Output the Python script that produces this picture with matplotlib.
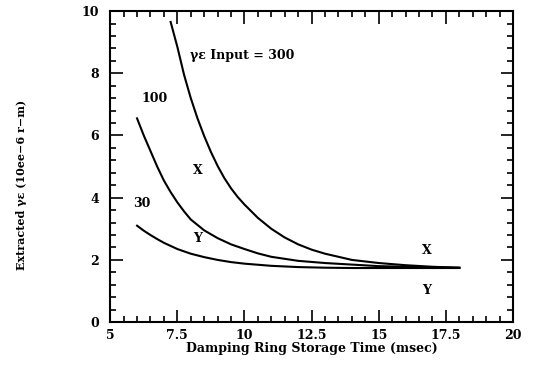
import matplotlib.pyplot as plt
from matplotlib.ticker import MultipleLocator, FormatStrFormatter

t_300 = [7.25, 7.5, 7.75, 8.0, 8.25, 8.5, 8.75, 9.0, 9.25, 9.5, 9.75, 10.0, 10.5, 11.0, 11.5,
         12.0, 12.5, 13.0, 14.0, 15.0, 16.0, 17.0, 18.0]
e_300 = [9.65, 8.85, 7.95, 7.2, 6.55, 5.98, 5.47, 5.02, 4.63, 4.3, 4.02, 3.78, 3.35, 3.0, 2.72,
         2.5, 2.33, 2.2, 2.0, 1.9, 1.83, 1.78, 1.75]

t_100 = [6.0, 6.25, 6.5, 6.75, 7.0, 7.25, 7.5, 7.75, 8.0, 8.5, 9.0, 9.5, 10.0, 10.5, 11.0,
         12.0, 13.0, 14.0, 15.0, 16.0, 17.0, 18.0]
e_100 = [6.55, 6.0, 5.5, 5.0, 4.55, 4.18, 3.85, 3.56, 3.3, 2.95, 2.7, 2.5, 2.35, 2.21, 2.1,
         1.97, 1.9, 1.85, 1.8, 1.78, 1.76, 1.75]

t_30 = [6.0, 6.25, 6.5, 6.75, 7.0, 7.5, 8.0, 8.5, 9.0, 9.5, 10.0, 11.0, 12.0, 13.0, 14.0,
        15.0, 16.0, 17.0, 18.0]
e_30 = [3.1, 2.94, 2.8, 2.67, 2.55, 2.35, 2.2, 2.09, 2.0, 1.93, 1.88, 1.81, 1.77, 1.75, 1.74,
        1.74, 1.74, 1.74, 1.74]

plt.rcParams['font.family'] = ['DejaVu Serif']
plt.rcParams['font.weight'] = 'bold'

fig = plt.figure(figsize=(5.35, 3.69), dpi=100)
ax = fig.add_axes([0.206, 0.127, 0.753, 0.843])

for t, e in [(t_300, e_300), (t_100, e_100), (t_30, e_30)]:
    ax.plot(t, e, color="black", lw=1.5)

ax.set_xlim(5, 20)
ax.set_ylim(0, 10)
ax.xaxis.set_major_locator(MultipleLocator(2.5))
ax.xaxis.set_minor_locator(MultipleLocator(0.5))
ax.yaxis.set_major_locator(MultipleLocator(2))
ax.yaxis.set_minor_locator(MultipleLocator(0.4))
ax.xaxis.set_major_formatter(FormatStrFormatter("%g"))
ax.tick_params(which="both", direction="in", top=True, right=True, labelsize=9, width=1.2)
ax.tick_params(which="major", length=9)
ax.tick_params(which="minor", length=4)
ax.tick_params(axis="y", pad=8)
ax.tick_params(axis="x", pad=5)
for s in ax.spines.values():
    s.set_linewidth(1.5)

ax.set_xlabel("Damping Ring Storage Time (msec)", fontsize=9, fontweight="bold", labelpad=0)
fig.text(0.04, 0.5, "Extracted γε (10ee−6 r−m)", rotation=90, ha="center", va="center",
         fontsize=8, fontweight="bold")

ax.text(7.97, 8.56, "γε Input = 300", fontsize=9, fontweight="bold", va="center")
ax.text(6.15, 7.18, "100", fontsize=9, fontweight="bold", va="center")
ax.text(5.85, 3.81, "30", fontsize=9, fontweight="bold", va="center")
ax.text(8.27, 4.87, "X", fontsize=9, fontweight="bold", ha="center", va="center")
ax.text(8.27, 2.69, "Y", fontsize=9, fontweight="bold", ha="center", va="center")
ax.text(16.78, 2.31, "X", fontsize=9, fontweight="bold", ha="center", va="center")
ax.text(16.78, 1.03, "Y", fontsize=9, fontweight="bold", ha="center", va="center")

fig.savefig("out.png", dpi=100)
